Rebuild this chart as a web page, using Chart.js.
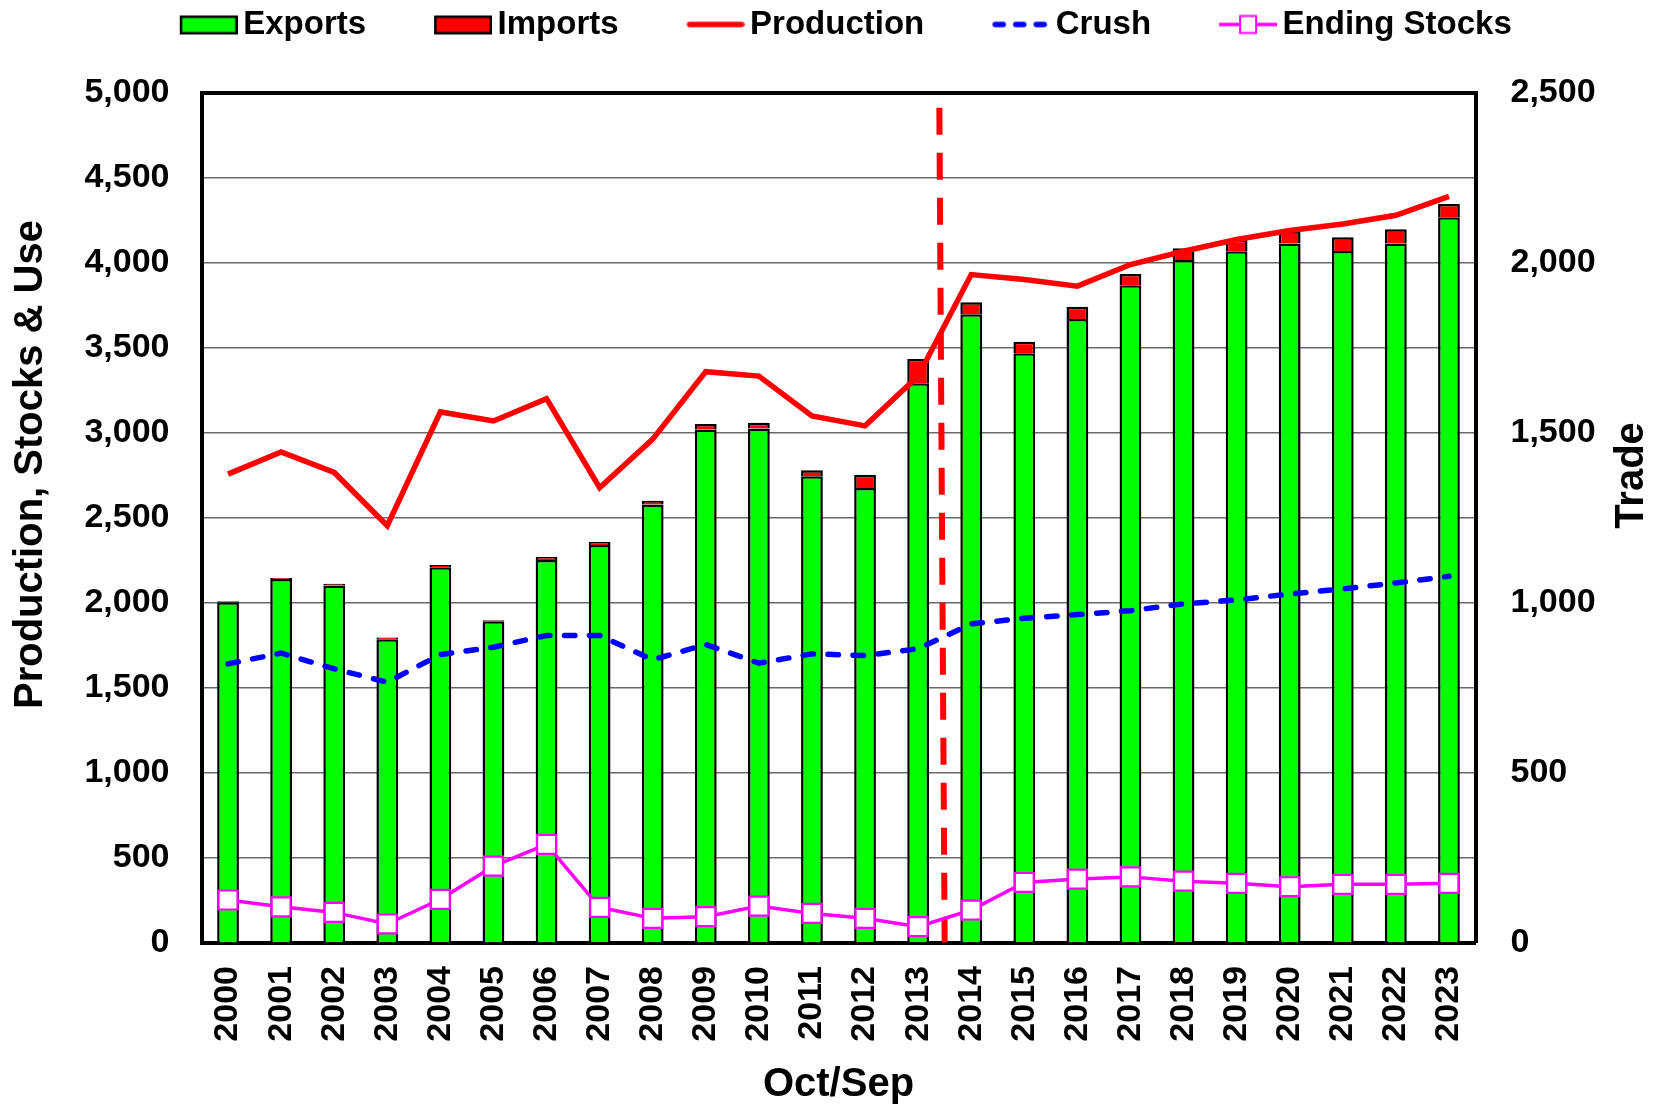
<!DOCTYPE html>
<html>
<head>
<meta charset="utf-8">
<title>Production, Stocks & Use</title>
<script src="https://cdn.jsdelivr.net/npm/chart.js@4.4.1/dist/chart.umd.min.js"></script>
<style>
  html, body { margin: 0; padding: 0; background: #fff; }
  #wrap { width: 1656px; height: 1107px; position: relative; }
</style>
</head>
<body>
<div id="wrap"><canvas id="chart"></canvas></div>
<script>
// Marketing years
const years = ['2000', '2001', '2002', '2003', '2004', '2005', '2006', '2007', '2008', '2009', '2010', '2011',
               '2012', '2013', '2014', '2015', '2016', '2017', '2018', '2019', '2020', '2021', '2022', '2023'];

// Trade (right axis)
const exportsData = [1001, 1069, 1050, 892, 1104, 945, 1125, 1169, 1288, 1509, 1512, 1371,
                     1337, 1645, 1848, 1733, 1834, 1933, 2007, 2033, 2056, 2034, 2056, 2133];
const importsData = [3, 3, 5, 5, 6, 3, 9, 9, 11, 16, 17, 18,
                     39, 71, 35, 34, 36, 33, 35, 34, 36, 40, 42, 39];

// Production, stocks & use (left axis)
const production = [2755, 2886, 2765, 2452, 3121, 3068, 3199, 2675, 2961, 3358, 3332, 3097,
                    3039, 3332, 3929, 3900, 3861, 3988, 4066, 4135, 4188, 4227, 4278, 4389];
const crush = [1639, 1702, 1610, 1531, 1694, 1737, 1806, 1806, 1663, 1753, 1643, 1698,
               1688, 1728, 1874, 1907, 1929, 1952, 1992, 2015, 2050, 2080, 2115, 2154];
const endingStocks = [250, 210, 177, 109, 254, 449, 577, 207, 142, 152, 214, 171,
                      142, 93, 191, 353, 373, 386, 361, 348, 328, 342, 342, 348];

// projection divider between 2013 and 2014 (category index), from this value down to 0
const dividerIndexTop = 13.4;
const dividerIndexBottom = 13.5;
const dividerTop = 4910;

const leftTicks = { min: 0, max: 5000, step: 500 };
const rightTicks = { min: 0, max: 2500, step: 500 };

Chart.defaults.font.family = '"Liberation Sans", Arial, sans-serif';
Chart.defaults.font.weight = 'bold';
Chart.defaults.font.size = 34;
Chart.defaults.color = '#000';

// legend icons, drawn like the spreadsheet ones
function legendIcon(kind) {
    const c = document.createElement('canvas');
    c.width = 129;
    c.height = 26;
    const g = c.getContext('2d');
    const x0 = 71, x1 = 129, cy = 13;
    if (kind === 'exports' || kind === 'imports') {
        g.fillStyle = kind === 'exports' ? '#00FF00' : '#FF0000';
        g.fillRect(x0 + 1, cy - 8, 56, 17);
        g.strokeStyle = '#000';
        g.lineWidth = 2.5;
        g.strokeRect(x0 + 1.25, cy - 7.75, 55.5, 16.5);
    } else if (kind === 'production') {
        g.strokeStyle = '#FF0000';
        g.lineWidth = 5.5;
        g.lineCap = 'round';
        g.beginPath(); g.moveTo(x0 + 3, cy); g.lineTo(x1 - 3, cy); g.stroke();
    } else if (kind === 'crush') {
        g.strokeStyle = '#0000FF';
        g.lineWidth = 5.5;
        g.lineCap = 'round';
        g.setLineDash([8, 12.5]);
        g.beginPath(); g.moveTo(x0 + 3, cy); g.lineTo(x1 - 3, cy); g.stroke();
    } else {
        g.strokeStyle = '#FF00FF';
        g.lineWidth = 3.5;
        g.beginPath(); g.moveTo(x0, cy); g.lineTo(x1, cy); g.stroke();
        g.fillStyle = '#fff';
        g.lineWidth = 2;
        g.fillRect(x0 + 21, cy - 8.5, 16, 17);
        g.strokeRect(x0 + 21, cy - 8.5, 16, 17);
    }
    return c;
}

const icons = ['exports', 'imports', 'production', 'crush', 'stocks'].map(legendIcon);

// dashed vertical divider
const dividerPlugin = {
    id: 'divider',
    beforeDatasetsDraw(chart) {
        const { ctx, scales: { x, y } } = chart;
        ctx.save();
        ctx.strokeStyle = '#FF0000';
        ctx.lineWidth = 6;
        ctx.setLineDash([27, 18]);
        ctx.beginPath();
        ctx.moveTo(x.getPixelForValue(dividerIndexTop), y.getPixelForValue(dividerTop));
        ctx.lineTo(x.getPixelForValue(dividerIndexBottom), y.getPixelForValue(0));
        ctx.stroke();
        ctx.restore();
    }
};

// vertical axis titles
const axisTitles = {
    id: 'axisTitles',
    afterDraw(chart) {
        const { ctx, chartArea } = chart;
        const mid = (chartArea.top + chartArea.bottom) / 2;
        ctx.save();
        ctx.fillStyle = '#000';
        ctx.font = 'bold 40px "Liberation Sans", Arial, sans-serif';
        ctx.textAlign = 'center';
        ctx.textBaseline = 'middle';
        ctx.translate(31, mid - 53);
        ctx.rotate(-Math.PI / 2);
        ctx.fillText('Production, Stocks & Use', 0, 0);
        ctx.restore();

        ctx.save();
        ctx.fillStyle = '#000';
        ctx.font = 'bold 40px "Liberation Sans", Arial, sans-serif';
        ctx.textAlign = 'center';
        ctx.textBaseline = 'middle';
        ctx.translate(chart.width - 24, mid - 42);
        ctx.rotate(-Math.PI / 2);
        ctx.fillText('Trade', 0, 0);
        ctx.restore();
    }
};

new Chart(document.getElementById('chart'), {
    type: 'bar',
    data: {
        labels: years,
        datasets: [
            {
                label: 'Exports',
                data: exportsData,
                yAxisID: 'y2',
                backgroundColor: '#00FF00',
                borderColor: '#000',
                borderWidth: 2.5,
                barPercentage: 0.41,
                categoryPercentage: 1,
                order: 2
            },
            {
                label: 'Imports',
                data: importsData,
                yAxisID: 'y2',
                backgroundColor: '#FF0000',
                borderColor: '#000',
                borderWidth: 2.5,
                barPercentage: 0.41,
                categoryPercentage: 1,
                order: 2
            },
            {
                type: 'line',
                label: 'Production',
                data: production,
                yAxisID: 'y',
                borderColor: '#FF0000',
                borderWidth: 5.5,
                pointRadius: 0,
                tension: 0,
                order: 1
            },
            {
                type: 'line',
                label: 'Crush',
                data: crush,
                yAxisID: 'y',
                borderColor: '#0000FF',
                borderWidth: 5.5,
                borderDash: [10.5, 14.5],
                borderCapStyle: 'round',
                pointRadius: 0,
                tension: 0,
                order: 1
            },
            {
                type: 'line',
                label: 'Ending Stocks',
                data: endingStocks,
                yAxisID: 'y',
                borderColor: '#FF00FF',
                borderWidth: 3.5,
                pointStyle: 'rect',
                pointRadius: 13.4,
                pointBorderWidth: 2.2,
                pointBorderColor: '#FF00FF',
                pointBackgroundColor: '#fff',
                tension: 0,
                order: 1
            }
        ]
    },
    options: {
        responsive: true,
        maintainAspectRatio: false,
        animation: false,
        locale: 'en-US',
        layout: { padding: { top: 0, left: 0, right: 24.5, bottom: 0 } },
        plugins: {
            tooltip: { enabled: false },
            legend: {
                position: 'top',
                labels: {
                    usePointStyle: true,
                    pointStyleWidth: 107,
                    padding: 8,
                    color: '#000',
                    font: { size: 33, weight: 'bold' },
                    generateLabels: (chart) => chart.data.datasets.map((ds, i) => ({
                        text: ds.label,
                        pointStyle: icons[i],
                        fillStyle: 'transparent',
                        strokeStyle: 'transparent',
                        lineWidth: 0,
                        hidden: false,
                        datasetIndex: i,
                        fontColor: '#000'
                    }))
                }
            },
            // empty spacer between legend and plot
            subtitle: {
                display: true,
                text: '',
                weight: 500,
                font: { size: 1 },
                padding: { top: 0, bottom: 40.3 }
            }
        },
        scales: {
            x: {
                stacked: true,
                grid: { display: false, drawTicks: false },
                border: { color: '#000', width: 4 },
                ticks: { minRotation: 90, maxRotation: 90, autoSkip: false, padding: 23.5, font: { size: 34 } },
                title: {
                    display: true,
                    text: 'Oct/Sep',
                    font: { size: 40, weight: 'bold', lineHeight: 1.1 },
                    padding: 0
                },
                afterFit: (s) => { s.height = 164.5; }
            },
            y: {
                position: 'left',
                stacked: false,
                min: leftTicks.min,
                max: leftTicks.max,
                ticks: { stepSize: leftTicks.step, padding: 32, font: { size: 34 } },
                grid: {
                    drawTicks: false,
                    color: (c) => c.tick && c.tick.value === leftTicks.max ? '#000' : '#6a6a6a',
                    lineWidth: (c) => c.tick && c.tick.value === leftTicks.max ? 4 : 1.5
                },
                border: { color: '#000', width: 4 },
                afterFit: (s) => { s.width = 201.5; }
            },
            y2: {
                position: 'right',
                stacked: true,
                min: rightTicks.min,
                max: rightTicks.max,
                ticks: { stepSize: rightTicks.step, padding: 35, font: { size: 34 } },
                grid: { display: false, drawTicks: false },
                border: { color: '#000', width: 4 },
                afterFit: (s) => { s.width = 156; }
            }
        }
    },
    plugins: [dividerPlugin, axisTitles]
});
</script>
</body>
</html>
